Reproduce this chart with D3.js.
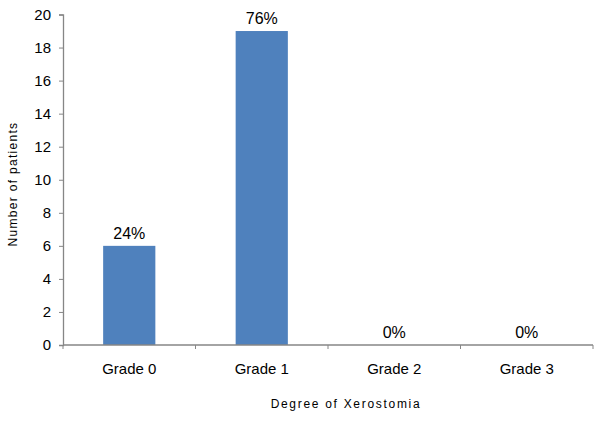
<!DOCTYPE html>
<html><head><meta charset="utf-8">
<script src="https://cdn.jsdelivr.net/npm/d3@7"></script>
<style>body{margin:0;background:#fff}svg{display:block}text{font-family:"Liberation Sans",Arial,sans-serif;fill:#000}</style>
</head><body>
<svg id="c" width="602" height="426"></svg>
<script>
const categories = ["Grade 0", "Grade 1", "Grade 2", "Grade 3"];
const values = [6, 19, 0, 0];
const percentLabels = ["24%", "76%", "0%", "0%"];
const yTicks = [0, 2, 4, 6, 8, 10, 12, 14, 16, 18, 20];

const svg = d3.select("#c");
const x = d3.scaleBand().domain(categories).range([63, 593]).paddingInner(0.606).paddingOuter(0.303);
const y = d3.scaleLinear().domain([0, 20]).range([345, 14.5]);
const axisColor = "#868686";

// bars
svg.selectAll("rect.bar").data(values).join("rect")
  .attr("class", "bar")
  .attr("x", (d, i) => x(categories[i]))
  .attr("y", d => y(d))
  .attr("width", x.bandwidth())
  .attr("height", d => y(0) - y(d))
  .attr("fill", "#4F81BD");

// y axis
const yAxis = svg.append("g").attr("transform", "translate(63,0)")
  .call(d3.axisLeft(y).tickValues(yTicks).tickSize(4).tickPadding(8).tickFormat(d3.format("d")));
yAxis.select(".domain").attr("stroke", axisColor).attr("stroke-width", 1.3);
yAxis.selectAll(".tick line").attr("stroke", axisColor);
yAxis.selectAll(".tick text").attr("font-size", 15).attr("font-family", "Liberation Sans, Arial, sans-serif").attr("fill", "#000");

// x axis
const xPos = d3.scalePoint().domain(d3.range(categories.length + 1)).range([63, 593]);
const xg = svg.append("g").attr("transform", "translate(0,345)");
xg.append("line").attr("x1", 63).attr("x2", 593).attr("y1", 0).attr("y2", 0).attr("stroke", axisColor).attr("stroke-width", 1.3);
xg.selectAll("line.tk").data(d3.range(categories.length + 1)).join("line")
  .attr("class", "tk")
  .attr("x1", d => xPos(d)).attr("x2", d => xPos(d))
  .attr("y1", 0).attr("y2", 4).attr("stroke", axisColor);
xg.selectAll("text.cat").data(categories).join("text")
  .attr("class", "cat")
  .attr("x", d => x(d) + x.bandwidth() / 2)
  .attr("y", 29)
  .attr("text-anchor", "middle")
  .attr("font-size", 15)
  .text(d => d);

// value labels
svg.selectAll("text.lbl").data(values).join("text")
  .attr("class", "lbl")
  .attr("x", (d, i) => x(categories[i]) + x.bandwidth() / 2)
  .attr("y", d => y(d) - 7)
  .attr("text-anchor", "middle")
  .attr("font-size", 16)
  .text((d, i) => percentLabels[i]);

// axis titles
svg.append("text")
  .attr("x", 346).attr("y", 408)
  .attr("text-anchor", "middle")
  .attr("font-size", 12)
  .attr("letter-spacing", 1.7)
  .text("Degree of Xerostomia");

svg.append("text")
  .attr("transform", "translate(17,184) rotate(-90)")
  .attr("text-anchor", "middle")
  .attr("font-size", 12)
  .attr("letter-spacing", 1.3)
  .text("Number of patients");
</script>
</body></html>
